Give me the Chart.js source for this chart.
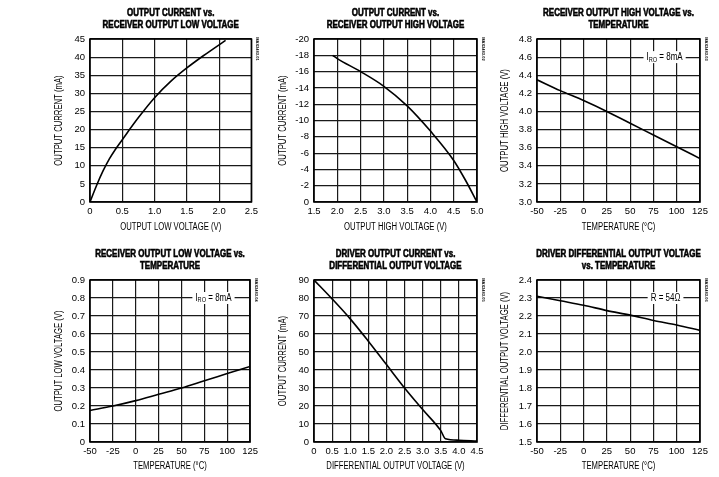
<!DOCTYPE html>
<html>
<head>
<meta charset="utf-8">
<script src="https://cdn.jsdelivr.net/npm/chart.js@4.4.1/dist/chart.umd.min.js"></script>
<style>
  body { margin: 0; background: #fff; }
  .panel { position: absolute; }
</style>
</head>
<body>
<div class="panel" style="left:0;top:0"><canvas id="c1" width="262" height="238"></canvas></div>
<div class="panel" style="left:262px;top:0"><canvas id="c2" width="228" height="238"></canvas></div>
<div class="panel" style="left:490px;top:0"><canvas id="c3" width="229" height="238"></canvas></div>
<div class="panel" style="left:0;top:238px"><canvas id="c4" width="262" height="239"></canvas></div>
<div class="panel" style="left:262px;top:238px"><canvas id="c5" width="228" height="239"></canvas></div>
<div class="panel" style="left:490px;top:238px"><canvas id="c6" width="229" height="239"></canvas></div>
<script>
// Output current vs receiver output low voltage
const lowVolt = [0, 0.1, 0.2, 0.3, 0.4, 0.5, 0.75, 1.0, 1.25, 1.5, 1.75, 2.0, 2.1];
const lowCurrent = [0, 4.5, 8.5, 11.9, 14.7, 17.2, 23.3, 28.8, 33.3, 37, 40.3, 43.4, 44.6];

// Output current vs receiver output high voltage
const highVolt = [1.9, 2.0, 2.5, 3.0, 3.5, 4.0, 4.5, 4.75, 5.0];
const highCurrent = [-18, -17.6, -16, -14.2, -11.8, -8.7, -5.1, -2.7, 0];

// Temperature axis shared by the temperature plots
const temps = [-50, -25, 0, 25, 50, 75, 100, 125];
const vohTemp = [4.35, 4.23, 4.12, 4.0, 3.87, 3.74, 3.61, 3.48];
const volTemp = [0.175, 0.2, 0.23, 0.265, 0.3, 0.34, 0.38, 0.42];
const vodTemp = [2.31, 2.285, 2.26, 2.23, 2.205, 2.175, 2.15, 2.12];

// Driver output current vs differential output voltage
const diffVolt = [0, 0.5, 1.0, 1.5, 2.0, 2.5, 3.0, 3.5, 3.63, 4.0, 4.5];
const driverCurrent = [90, 79.5, 68.4, 56, 43, 30, 18, 6.3, 1.8, 1.0, 0.5];

const FONT = "'Liberation Sans', Arial, sans-serif";
Chart.defaults.font.family = FONT;
Chart.defaults.color = '#000';

function pts(xs, ys) {
    return xs.map((x, i) => ({ x: x, y: ys[i] }));
}

function oneDec(v) { return v === 0 ? '0' : v.toFixed(1); }
function plain(v) { return String(v); }

// draws narrow text by squeezing it horizontally
function squeezed(ctx, text, x, y, font, sx, rot, heavy) {
    ctx.save();
    ctx.font = font;
    ctx.translate(x, y);
    if (rot) ctx.rotate(rot);
    ctx.scale(sx, 1);
    ctx.textAlign = 'center';
    ctx.textBaseline = 'middle';
    ctx.fillText(text, 0, 0);
    if (heavy) {
        ctx.strokeStyle = '#000';
        ctx.lineWidth = 0.6;
        ctx.strokeText(text, 0, 0);
    }
    ctx.restore();
}

const framePlugin = {
    id: 'frame',
    afterDraw(chart) {
        const o = chart.options.plugins.frame;
        const ctx = chart.ctx;
        const a = chart.chartArea;
        const cx = (a.left + a.right) / 2;
        const cy = (a.top + a.bottom) / 2;
        ctx.save();
        ctx.strokeStyle = '#000';
        ctx.lineWidth = 1.6;
        ctx.strokeRect(a.left, a.top, a.right - a.left, a.bottom - a.top);
        ctx.fillStyle = '#000';

        // chart title
        o.title.forEach((t, i) => squeezed(ctx, t, cx, o.titleY[i], 'bold 10.5px ' + FONT, 0.76, 0, true));
        // axis titles
        squeezed(ctx, o.xTitle, cx, o.xTitleY, '10px ' + FONT, 0.77);
        squeezed(ctx, o.yTitle, o.yTitleX, cy, '10px ' + FONT, 0.77, -Math.PI / 2);

        // note in plot
        if (o.note) {
            const px = chart.scales.x.getPixelForValue(o.note.x);
            const py = chart.scales.y.getPixelForValue(o.note.y);
            const sx = 0.8;
            ctx.font = '10px ' + FONT;
            const w1 = ctx.measureText(o.note.main).width * sx;
            ctx.font = '7px ' + FONT;
            const w2 = o.note.sub ? ctx.measureText(o.note.sub).width * sx : 0;
            ctx.font = '10px ' + FONT;
            const w3 = o.note.rest ? ctx.measureText(o.note.rest).width * sx : 0;
            const w = w1 + w2 + w3;
            const x0 = px - w / 2;
            ctx.fillStyle = '#fff';
            ctx.fillRect(x0 - 3, py - 6, w + 6, 12);
            ctx.fillStyle = '#000';
            squeezed(ctx, o.note.main, x0 + w1 / 2, py, '10px ' + FONT, sx);
            if (o.note.sub) squeezed(ctx, o.note.sub, x0 + w1 + w2 / 2, py + 2.5, '7px ' + FONT, sx);
            if (o.note.rest) squeezed(ctx, o.note.rest, x0 + w1 + w2 + w3 / 2, py, '10px ' + FONT, sx);
        }

        // small figure tag at right edge
        ctx.translate(a.right + 5, a.top + 10);
        ctx.rotate(Math.PI / 2);
        ctx.font = 'bold 4px ' + FONT;
        ctx.textAlign = 'center';
        ctx.fillText(o.tag, 0, 0);
        ctx.restore();
    }
};

function makeChart(id, g, data, xs, ys, titleText, note, tag) {
    new Chart(document.getElementById(id), {
        type: 'scatter',
        data: {
            datasets: [{
                data: data,
                showLine: true,
                borderColor: '#000',
                borderWidth: 1.6,
                pointRadius: 0,
                cubicInterpolationMode: 'monotone'
            }]
        },
        options: {
            responsive: false,
            animation: false,
            layout: { padding: { top: g.top, right: g.right, bottom: 0, left: 0 } },
            plugins: {
                legend: { display: false },
                tooltip: { enabled: false },
                frame: {
                    title: titleText, titleY: g.titleY, note: note, tag: tag,
                    xTitle: xs.title, xTitleY: g.xTitleY,
                    yTitle: ys.title, yTitleX: g.yTitleX
                }
            },
            scales: {
                x: {
                    type: 'linear',
                    min: xs.min, max: xs.max,
                    afterFit(s) { s.height = g.xh; },
                    ticks: { stepSize: xs.step, padding: 4, maxRotation: 0, autoSkip: false,
                             font: { size: 9.5 }, callback: xs.fmt },
                    grid: { color: '#1a1a1a', lineWidth: 1.2, drawTicks: false },
                    border: { display: false }
                },
                y: {
                    type: 'linear',
                    min: ys.min, max: ys.max, reverse: !!ys.reverse,
                    afterFit(s) { s.width = g.yw; },
                    ticks: { stepSize: ys.step, padding: 5, autoSkip: false,
                             font: { size: 9.5 }, callback: ys.fmt },
                    grid: { color: '#1a1a1a', lineWidth: 1.2, drawTicks: false },
                    border: { display: false }
                }
            }
        },
        plugins: [framePlugin]
    });
}

const rowTop = { top: 39, xh: 36, titleY: [13.5, 25.5], xTitleY: 227 };
const rowBot = { top: 42, xh: 35, titleY: [16, 28], xTitleY: 228.5 };
const colA = { yw: 90, right: 9, yTitleX: 59 };
const colB = { yw: 52, right: 13, yTitleX: 21 };
const colC = { yw: 47, right: 19, yTitleX: 15 };

const tempAxis = { min: -50, max: 125, step: 25, fmt: plain, title: 'TEMPERATURE (\u00B0C)' };

makeChart('c1', Object.assign({}, rowTop, colA), pts(lowVolt, lowCurrent),
    { min: 0, max: 2.5, step: 0.5, fmt: oneDec, title: 'OUTPUT LOW VOLTAGE (V)' },
    { min: 0, max: 45, step: 5, fmt: plain, title: 'OUTPUT CURRENT (mA)' },
    ['OUTPUT CURRENT vs.', 'RECEIVER OUTPUT LOW VOLTAGE'], null, 'MAX3483-01');

makeChart('c2', Object.assign({}, rowTop, colB), pts(highVolt, highCurrent),
    { min: 1.5, max: 5.0, step: 0.5, fmt: v => v.toFixed(1), title: 'OUTPUT HIGH VOLTAGE (V)' },
    { min: -20, max: 0, step: 2, reverse: true, fmt: plain, title: 'OUTPUT CURRENT (mA)' },
    ['OUTPUT CURRENT vs.', 'RECEIVER OUTPUT HIGH VOLTAGE'], null, 'MAX3483-02');

makeChart('c3', Object.assign({}, rowTop, colC), pts(temps, vohTemp),
    tempAxis,
    { min: 3.0, max: 4.8, step: 0.2, fmt: v => v.toFixed(1), title: 'OUTPUT HIGH VOLTAGE (V)' },
    ['RECEIVER OUTPUT HIGH VOLTAGE vs.', 'TEMPERATURE'],
    { x: 87, y: 4.6, main: 'I', sub: 'RO', rest: ' = 8mA' }, 'MAX3483-03');

makeChart('c4', Object.assign({}, rowBot, colA), pts(temps, volTemp),
    tempAxis,
    { min: 0, max: 0.9, step: 0.1, fmt: oneDec, title: 'OUTPUT LOW VOLTAGE (V)' },
    ['RECEIVER OUTPUT LOW VOLTAGE vs.', 'TEMPERATURE'],
    { x: 85, y: 0.8, main: 'I', sub: 'RO', rest: ' = 8mA' }, 'MAX3483-04');

makeChart('c5', Object.assign({}, rowBot, colB), pts(diffVolt, driverCurrent),
    { min: 0, max: 4.5, step: 0.5, fmt: oneDec, title: 'DIFFERENTIAL OUTPUT VOLTAGE (V)' },
    { min: 0, max: 90, step: 10, fmt: plain, title: 'OUTPUT CURRENT (mA)' },
    ['DRIVER OUTPUT CURRENT vs.', 'DIFFERENTIAL OUTPUT VOLTAGE'], null, 'MAX3483-05');

makeChart('c6', Object.assign({}, rowBot, colC), pts(temps, vodTemp),
    tempAxis,
    { min: 1.5, max: 2.4, step: 0.1, fmt: v => v.toFixed(1), title: 'DIFFERENTIAL OUTPUT VOLTAGE (V)' },
    ['DRIVER DIFFERENTIAL OUTPUT VOLTAGE', 'vs. TEMPERATURE'],
    { x: 88, y: 2.3, main: 'R = 54\u03A9', sub: '', rest: '' }, 'MAX3483-06');
</script>
</body>
</html>
